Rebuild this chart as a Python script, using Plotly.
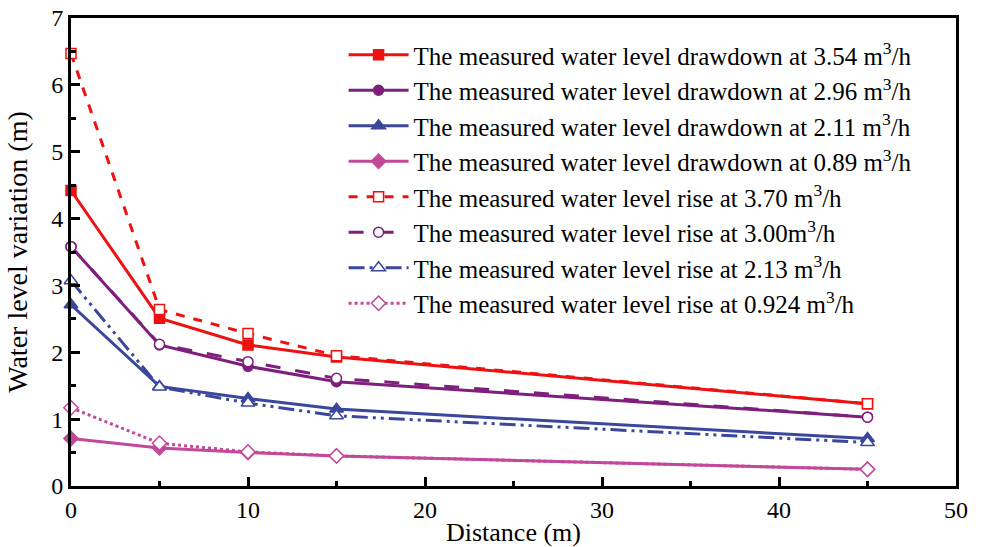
import plotly.graph_objects as go

distance = [0, 5, 10, 15, 45]

draw_354 = [4.42, 2.51, 2.11, 1.93, 1.23]
draw_296 = [3.58, 2.11, 1.79, 1.56, 1.03]
draw_211 = [2.71, 1.49, 1.31, 1.15, 0.71]
draw_089 = [0.71, 0.57, 0.50, 0.45, 0.25]
rise_370 = [6.47, 2.64, 2.28, 1.95, 1.23]
rise_300 = [3.58, 2.12, 1.86, 1.61, 1.03]
rise_213 = [3.07, 1.48, 1.24, 1.05, 0.65]
rise_0924 = [1.17, 0.64, 0.51, 0.45, 0.25]

labels = [
    "The measured water level drawdown at 3.54 m<sup>3</sup>/h",
    "The measured water level drawdown at 2.96 m<sup>3</sup>/h",
    "The measured water level drawdown at 2.11 m<sup>3</sup>/h",
    "The measured water level drawdown at 0.89 m<sup>3</sup>/h",
    "The measured water level rise at 3.70 m<sup>3</sup>/h",
    "The measured water level rise at 3.00m<sup>3</sup>/h",
    "The measured water level rise at 2.13 m<sup>3</sup>/h",
    "The measured water level rise at 0.924 m<sup>3</sup>/h",
]

RED = "#EE1111"
PURPLE = "#7E1F7D"
BLUE = "#3A479C"
PINK = "#C2489A"

# (values, colour, dash, symbol, filled, size)
series = [
    (draw_354, RED, "solid", "square", True, 10),
    (draw_296, PURPLE, "solid", "circle", True, 10),
    (draw_211, BLUE, "solid", "triangle-up", True, 12),
    (draw_089, PINK, "solid", "diamond", True, 11),
    (rise_370, RED, "dash", "square", False, 10),
    (rise_300, PURPLE, "longdash", "circle", False, 10),
    (rise_213, BLUE, "16px,5px,3px,5px,3px,5px", "triangle-up", False, 12),
    (rise_0924, PINK, "dot", "diamond", False, 11),
]

fig = go.Figure()
for i, ((ys, col, dash, sym, filled, sz), name) in enumerate(zip(series, labels)):
    fig.add_trace(go.Scatter(
        x=distance, y=ys, name=name, mode="lines+markers",
        line=dict(color=col, width=3, dash=dash),
        marker=dict(symbol=sym, size=sz, color=col if filled else "white",
                    line=dict(color=col, width=1.5)),
        legendgroup=f"g{i}", cliponaxis=False,
    ))

font_family = "Liberation Serif, Times New Roman, serif"
fig.update_layout(
    width=984, height=547,
    margin=dict(l=71, r=28, t=18, b=61),
    paper_bgcolor="white", plot_bgcolor="white",
    font=dict(family=font_family, size=24, color="black"),
    showlegend=True,
    legend=dict(x=0.308, y=0.970, xanchor="left", yanchor="top",
                font=dict(family=font_family, size=25, color="black"),
                bgcolor="rgba(0,0,0,0)", itemwidth=60, tracegroupgap=11,
                traceorder="normal"),
    xaxis=dict(range=[0, 50], dtick=10, showline=True, linecolor="black", linewidth=3,
               mirror=True, ticks="inside", ticklen=9, tickwidth=3, tickcolor="black",
               minor=dict(dtick=5, ticks="inside", ticklen=5, tickwidth=3, tickcolor="black"),
               showgrid=False, zeroline=False, automargin=False,
               title=dict(text="Distance (m)", font=dict(size=26), standoff=2),
               tickfont=dict(size=24)),
    yaxis=dict(range=[0, 7], dtick=1, showline=True, linecolor="black", linewidth=3,
               mirror=True, ticks="inside", ticklen=9, tickwidth=3, tickcolor="black",
               minor=dict(dtick=0.5, ticks="inside", ticklen=5, tickwidth=3, tickcolor="black"),
               showgrid=False, zeroline=False, automargin=False,
               title=dict(text="Water level variation (m)", font=dict(size=28), standoff=16),
               tickfont=dict(size=24)),
)

fig.write_html("out.html")
